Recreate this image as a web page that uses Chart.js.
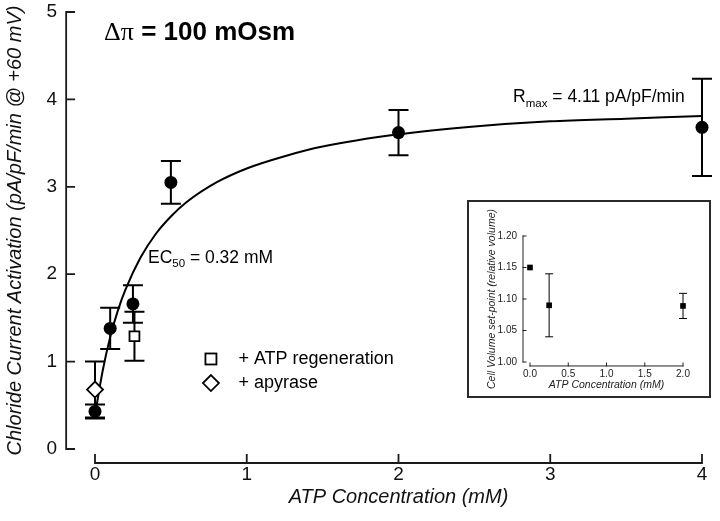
<!DOCTYPE html>
<html>
<head>
<meta charset="utf-8">
<script src="https://cdn.jsdelivr.net/npm/chart.js@4.4.1/dist/chart.umd.min.js"></script>
<style>
  html, body { margin: 0; padding: 0; background: #fff; }
  #wrap { position: relative; width: 720px; height: 521px; }
  #main { position: absolute; left: 0; top: 0; }
  #insetBox { position: absolute; left: 467px; top: 200px; width: 244px; height: 198px;
    box-sizing: border-box; border: 2px solid #2a2a2a; background: #fff; }
  #inset { display: block; }
</style>
</head>
<body>
<div id="wrap">
  <canvas id="main" width="720" height="521"></canvas>
  <div id="insetBox"><canvas id="inset" width="240" height="194"></canvas></div>
</div>
<script>
// ---------------- main chart data ----------------
const xTicks = [0, 1, 2, 3, 4];
const yTicks = [0, 1, 2, 3, 4, 5];

// control (filled circles)
const ctrlX   = [0, 0.1, 0.25, 0.5, 2, 4];
const ctrlY   = [0.43, 1.38, 1.66, 3.05, 3.62, 3.68];
const ctrlErr = [0.08, 0.235, 0.215, 0.245, 0.26, 0.555];

// + ATP regeneration (open square)
const regenX   = [0.26];
const regenY   = [1.29];
const regenErr = [0.28];

// + apyrase (open diamond)
const apyX   = [0];
const apyY   = [0.68];
const apyErr = [0.32];

// fitted curve
const curveX = [0, 0.05, 0.1, 0.15, 0.2, 0.3, 0.4, 0.5, 0.6, 0.8, 1.0, 1.25, 1.5, 2.0, 2.5, 3.0, 3.5, 4.0];
const curveY = [0.39, 0.89, 1.28, 1.58, 1.82, 2.19, 2.46, 2.66, 2.82, 3.05, 3.21, 3.35, 3.46, 3.60, 3.69, 3.75, 3.78, 3.81];

// ---------------- inset data ----------------
const insetXTicks = [0, 0.5, 1.0, 1.5, 2.0];
const insetYTicks = [1.00, 1.05, 1.10, 1.15, 1.20];
const insetX   = [0, 0.25, 2.0];
const insetY   = [1.15, 1.09, 1.089];
const insetErr = [0, 0.05, 0.02];

const FONT = "'Liberation Sans', Arial, Helvetica, sans-serif";
Chart.defaults.font.family = FONT;
Chart.defaults.color = '#111';

const pts = (xs, ys) => xs.map((x, i) => ({ x, y: ys[i] }));
const noPad = s => { s.paddingTop = 0; s.paddingBottom = 0; s.paddingLeft = 0; s.paddingRight = 0; };

// error bars drawn through the scales
const errorBars = {
  id: 'errorBars',
  beforeDatasetsDraw(chart, args, opts) {
    const { ctx, scales: { x, y } } = chart;
    ctx.save();
    ctx.strokeStyle = '#000';
    ctx.lineWidth = opts.lineWidth;
    chart.data.datasets.forEach(ds => {
      if (!ds.errors) return;
      ds.data.forEach((p, i) => {
        const e = ds.errors[i];
        if (!e) return;
        const px = x.getPixelForValue(p.x);
        const yt = y.getPixelForValue(p.y + e);
        const yb = y.getPixelForValue(p.y - e);
        ctx.beginPath();
        ctx.moveTo(px, yt); ctx.lineTo(px, yb);
        ctx.moveTo(px - opts.cap, yt); ctx.lineTo(px + opts.cap, yt);
        ctx.moveTo(px - opts.cap, yb); ctx.lineTo(px + opts.cap, yb);
        ctx.stroke();
      });
    });
    ctx.restore();
  }
};

// detached axes with inward ticks
const detachedAxes = {
  id: 'detachedAxes',
  afterDraw(chart, args, o) {
    const { ctx, scales: { x, y } } = chart;
    const ax = x.getPixelForValue(o.yAxisAtX);
    const ay = y.getPixelForValue(o.xAxisAtY);
    ctx.save();
    ctx.strokeStyle = o.color;
    ctx.lineWidth = o.lineWidth;
    ctx.lineCap = 'square';
    ctx.beginPath();
    ctx.moveTo(ax, y.getPixelForValue(o.yTicks[0]));
    ctx.lineTo(ax, y.getPixelForValue(o.yTicks[o.yTicks.length - 1]));
    o.yTicks.forEach(v => { const py = y.getPixelForValue(v); ctx.moveTo(ax, py); ctx.lineTo(ax + o.tick, py); });
    ctx.moveTo(x.getPixelForValue(o.xTicks[0]), ay);
    ctx.lineTo(x.getPixelForValue(o.xTicks[o.xTicks.length - 1]), ay);
    o.xTicks.forEach(v => { const px = x.getPixelForValue(v); ctx.moveTo(px, ay); ctx.lineTo(px, ay - o.tick); });
    ctx.stroke();
    ctx.restore();
  }
};

// text annotations anchored in data space
const annotations = {
  id: 'annotations',
  afterDraw(chart) {
    const { ctx, scales: { x, y } } = chart;
    ctx.save();
    ctx.fillStyle = '#000';
    ctx.textBaseline = 'middle';
    ctx.textAlign = 'left';
    // title
    let px = x.getPixelForValue(0.06), py = y.getPixelForValue(4.76);
    ctx.font = "26px 'Liberation Serif', 'DejaVu Serif', serif";
    ctx.fillText('\u0394\u03c0', px, py);
    px += ctx.measureText('\u0394\u03c0').width;
    ctx.font = "bold 26px " + FONT;
    ctx.fillText(' = 100 mOsm', px, py);

    // R max
    px = x.getPixelForValue(2.755); py = y.getPixelForValue(4.02);
    ctx.font = "17.5px " + FONT;
    ctx.fillText('R', px, py);
    px += ctx.measureText('R').width;
    ctx.font = "11.5px " + FONT;
    ctx.fillText('max', px, py + 6);
    px += ctx.measureText('max').width;
    ctx.font = "17.5px " + FONT;
    ctx.fillText(' = 4.11 pA/pF/min', px, py);

    // EC50
    px = x.getPixelForValue(0.349); py = y.getPixelForValue(2.185);
    ctx.fillText('EC', px, py);
    px += ctx.measureText('EC').width;
    ctx.font = "11.5px " + FONT;
    ctx.fillText('50', px, py + 6);
    px += ctx.measureText('50').width;
    ctx.font = "17.5px " + FONT;
    ctx.fillText(' = 0.32 mM', px, py);

    // legend
    ctx.font = "18px " + FONT;
    const lx = x.getPixelForValue(0.764);
    const tx = x.getPixelForValue(0.945);
    const l1 = y.getPixelForValue(1.03), l2 = y.getPixelForValue(0.755);
    ctx.lineWidth = 1.8;
    ctx.strokeStyle = '#000';
    ctx.strokeRect(lx - 5.5, l1 - 5.5, 11, 11);
    ctx.beginPath();
    ctx.moveTo(lx, l2 - 8); ctx.lineTo(lx + 8, l2); ctx.lineTo(lx, l2 + 8); ctx.lineTo(lx - 8, l2); ctx.closePath();
    ctx.stroke();
    ctx.fillText('+ ATP regeneration', tx, l1);
    ctx.fillText('+ apyrase', tx, l2);
    ctx.restore();
  }
};

new Chart(document.getElementById('main'), {
  type: 'scatter',
  data: {
    datasets: [
      { label: 'control', data: pts(ctrlX, ctrlY), errors: ctrlErr,
        pointStyle: 'circle', pointRadius: 6.5, backgroundColor: '#000', borderColor: '#000', borderWidth: 0 },
      { label: '+ ATP regeneration', data: pts(regenX, regenY), errors: regenErr,
        pointStyle: 'rect', pointRadius: 7, backgroundColor: '#fff', borderColor: '#000', borderWidth: 1.8 },
      { label: '+ apyrase', data: pts(apyX, apyY), errors: apyErr,
        pointStyle: 'rectRot', pointRadius: 8, backgroundColor: '#fff', borderColor: '#000', borderWidth: 1.8 },
      { type: 'line', label: 'fit', data: pts(curveX, curveY), borderColor: '#000', borderWidth: 2,
        pointRadius: 0, cubicInterpolationMode: 'monotone', fill: false }
    ]
  },
  options: {
    responsive: false,
    animation: false,
    clip: false,
    layout: { padding: { top: 12, right: 18, left: 0, bottom: 0 } },
    plugins: {
      legend: { display: false },
      tooltip: { enabled: false },
      errorBars: { lineWidth: 2, cap: 10 },
      detachedAxes: { yAxisAtX: -0.19, xAxisAtY: -0.16, xTicks, yTicks, tick: 8, lineWidth: 1.8, color: '#1a1a1a' }
    },
    scales: {
      x: {
        type: 'linear', min: 0, max: 4,
        afterBuildTicks: s => { s.ticks = xTicks.map(v => ({ value: v })); },
        afterFit: s => { s.height = 72; noPad(s); },
        grid: { display: false, drawTicks: false }, border: { display: false },
        ticks: { padding: 14, font: { size: 19 }, color: '#111' },
        title: { display: true, text: 'ATP Concentration (mM)', font: { size: 20, style: 'italic' }, color: '#111',
                 padding: { top: 0, bottom: 12 } }
      },
      y: {
        type: 'linear', min: 0, max: 5,
        afterBuildTicks: s => { s.ticks = yTicks.map(v => ({ value: v })); },
        afterFit: s => { s.width = 95; noPad(s); },
        grid: { display: false, drawTicks: false }, border: { display: false },
        ticks: { padding: 38, font: { size: 19 }, color: '#111' },
        title: { display: true, text: 'Chloride Current Activation (pA/pF/min @ +60 mV)',
                 font: { size: 20, style: 'italic' }, color: '#111', padding: { top: 3, bottom: 0 } }
      }
    }
  },
  plugins: [errorBars, detachedAxes, annotations]
});

// ---------------- inset ----------------
new Chart(document.getElementById('inset'), {
  type: 'scatter',
  data: {
    datasets: [
      { label: 'set-point', data: pts(insetX, insetY), errors: insetErr,
        pointStyle: 'rect', pointRadius: 4, backgroundColor: '#000', borderColor: '#000', borderWidth: 0 }
    ]
  },
  options: {
    responsive: false,
    animation: false,
    clip: false,
    layout: { padding: { top: 34, right: 26, left: 0, bottom: 0 } },
    plugins: {
      legend: { display: false },
      tooltip: { enabled: false },
      errorBars: { lineWidth: 1, cap: 4 },
      detachedAxes: { yAxisAtX: -0.0915, xAxisAtY: 0.9937, xTicks: insetXTicks, yTicks: insetYTicks,
                      tick: 3, lineWidth: 1, color: '#222' }
    },
    scales: {
      x: {
        type: 'linear', min: 0, max: 2,
        afterBuildTicks: s => { s.ticks = insetXTicks.map(v => ({ value: v })); },
        afterFit: s => { s.height = 34; noPad(s); },
        grid: { display: false, drawTicks: false }, border: { display: false },
        ticks: { padding: 6, font: { size: 10 }, color: '#222', callback: v => Number(v).toFixed(1) },
        title: { display: true, text: 'ATP Concentration (mM)', font: { size: 10.5, style: 'italic' }, color: '#222',
                 padding: { top: 0, bottom: 5 } }
      },
      y: {
        type: 'linear', min: 1.0, max: 1.2,
        afterBuildTicks: s => { s.ticks = insetYTicks.map(v => ({ value: v })); },
        afterFit: s => { s.width = 61; noPad(s); },
        grid: { display: false, drawTicks: false }, border: { display: false },
        ticks: { padding: 13, font: { size: 10 }, color: '#222', callback: v => Number(v).toFixed(2) },
        title: { display: true, text: 'Cell Volume set-point (relative volume)', font: { size: 10.5, style: 'italic' },
                 color: '#222', padding: { top: 17, bottom: 0 } }
      }
    }
  },
  plugins: [errorBars, detachedAxes]
});
</script>
</body>
</html>
